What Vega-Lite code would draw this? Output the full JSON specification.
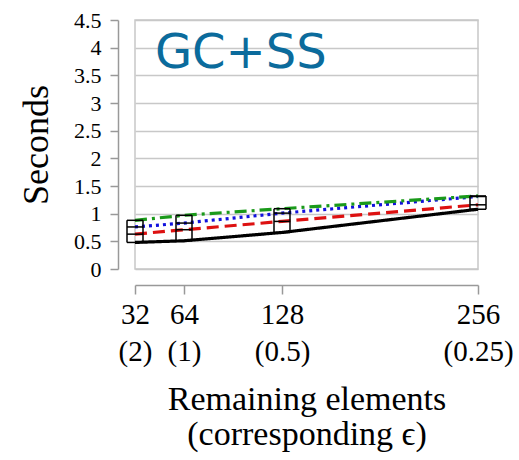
{
  "$schema": "https://vega.github.io/schema/vega-lite/v6.json",
  "width": 343,
  "height": 249,
  "autosize": {"type": "none"},
  "padding": {"left": 135, "top": 20, "right": 41, "bottom": 191},
  "config": {
    "view": {"stroke": "#c8c8c8", "strokeWidth": 1.5},
    "font": "Liberation Serif",
    "axis": {"labelFont": "Liberation Serif", "titleFont": "Liberation Serif", "labelColor": "black"}
  },
  "data": {
    "values": [
      {"x": 32, "series": "black", "y": 0.48},
      {"x": 64, "series": "black", "y": 0.51},
      {"x": 128, "series": "black", "y": 0.66},
      {"x": 256, "series": "black", "y": 1.08},
      {"x": 32, "series": "red", "y": 0.63},
      {"x": 64, "series": "red", "y": 0.71},
      {"x": 128, "series": "red", "y": 0.86},
      {"x": 256, "series": "red", "y": 1.16},
      {"x": 32, "series": "blue", "y": 0.76},
      {"x": 64, "series": "blue", "y": 0.83},
      {"x": 128, "series": "blue", "y": 1.01},
      {"x": 256, "series": "blue", "y": 1.31},
      {"x": 32, "series": "green", "y": 0.88},
      {"x": 64, "series": "green", "y": 0.97},
      {"x": 128, "series": "green", "y": 1.09},
      {"x": 256, "series": "green", "y": 1.32}
    ]
  },
  "resolve": {"axis": {"x": "independent", "y": "independent"}},
  "layer": [
    {
      "encoding": {
        "x": {
          "field": "x", "type": "quantitative",
          "scale": {"domain": [32, 256], "nice": false, "zero": false},
          "axis": {
            "values": [32, 64, 128, 256],
            "grid": false,
            "offset": 16,
            "tickSize": 9,
            "domainColor": "#999999", "tickColor": "#999999",
            "domainWidth": 1.5, "tickWidth": 1.5,
            "labelFont": "Liberation Serif",
            "labelFontSize": 29, "labelColor": "black",
            "labelPadding": 6, "labelLineHeight": 37,
            "labelFlush": false, "labelOverlap": false,
            "labelExpr": "[datum.label, '(' + (64/datum.value) + ')']",
            "encode": {"labels": {"update": {"font": {"value": "Liberation Serif"}, "fontSize": {"value": 29}, "lineHeight": {"value": 37}}}},
            "title": ["Remaining elements", "(corresponding ϵ)"],
            "titleFont": "Liberation Serif",
            "titleFontSize": 34, "titleFontWeight": "normal", "titleColor": "black",
            "titleLineHeight": 35, "titlePadding": 16
          }
        },
        "y": {
          "field": "y", "type": "quantitative",
          "scale": {"domain": [0, 4.5], "nice": false, "zero": true},
          "axis": {
            "values": [0, 0.5, 1, 1.5, 2, 2.5, 3, 3.5, 4, 4.5],
            "grid": true, "gridColor": "#c8c8c8", "gridWidth": 1.5,
            "offset": 17,
            "tickSize": 8,
            "domainColor": "#999999", "tickColor": "#999999",
            "domainWidth": 1.5, "tickWidth": 1.5,
            "labelFont": "Liberation Serif",
            "labelFontSize": 22, "labelColor": "black",
            "labelPadding": 9,
            "labelFlush": false, "labelOverlap": false,
            "format": ".1~f",
            "encode": {"labels": {"update": {"font": {"value": "Liberation Serif"}, "fontSize": {"value": 22}}}},
            "title": "Seconds",
            "titleFont": "Liberation Serif",
            "titleFontSize": 36, "titleFontWeight": "normal", "titleColor": "black",
            "titlePadding": 18
          }
        }
      },
      "layer": [
        {
          "mark": {"type": "line", "strokeWidth": 3.2},
          "encoding": {
            "color": {
              "field": "series", "type": "nominal",
              "scale": {"domain": ["black", "red", "blue", "green"], "range": ["#000000", "#dd1111", "#1111dd", "#1a9a1a"]},
              "legend": null
            },
            "strokeDash": {
              "field": "series", "type": "nominal",
              "scale": {"domain": ["black", "red", "blue", "green"], "range": [[1, 0], [12, 6], [3, 4], [12, 5, 3, 5]]},
              "legend": null
            }
          }
        },
        {
          "mark": {"type": "tick", "orient": "horizontal", "size": 16, "thickness": 1.5, "color": "black", "opacity": 1},
          "encoding": {}
        },
        {
          "mark": {"type": "line", "xOffset": -8, "color": "black", "strokeWidth": 1.5},
          "encoding": {
            "detail": {"field": "x", "type": "nominal"},
            "order": {"field": "y", "type": "quantitative"}
          }
        },
        {
          "mark": {"type": "line", "xOffset": 8, "color": "black", "strokeWidth": 1.5},
          "encoding": {
            "detail": {"field": "x", "type": "nominal"},
            "order": {"field": "y", "type": "quantitative"}
          }
        }
      ]
    },
    {
      "data": {"values": [{"label": "GC+SS"}]},
      "mark": {"type": "text", "align": "left", "baseline": "alphabetic", "font": "DejaVu Sans", "fontSize": 48, "color": "#0b6b9c"},
      "encoding": {
        "x": {"datum": 45, "type": "quantitative", "axis": null},
        "y": {"datum": 3.64, "type": "quantitative", "axis": null},
        "text": {"field": "label"}
      }
    }
  ]
}
